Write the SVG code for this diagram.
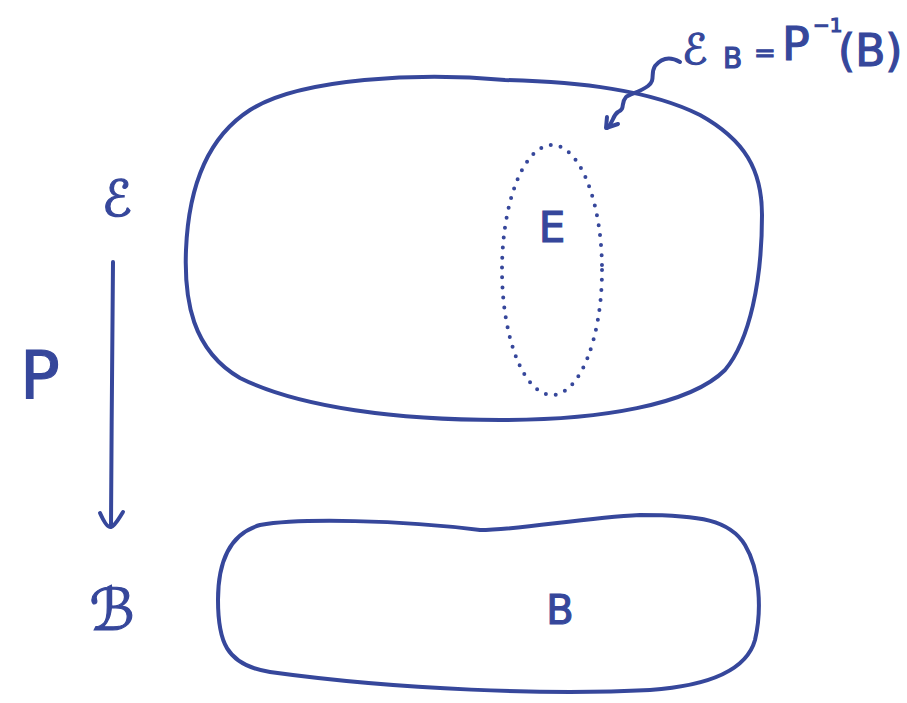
<svg xmlns="http://www.w3.org/2000/svg" width="907" height="703" viewBox="0 0 907 703">
<style>
.s{fill:none;stroke:#36479b;stroke-width:4;stroke-linecap:round;stroke-linejoin:round}
.d{fill:none;stroke:#36479b;stroke-width:4;stroke-linecap:round;stroke-dasharray:0 10}
.t{fill:#36479b;stroke:#36479b;stroke-width:1.2;font-family:"DejaVu Sans",sans-serif;text-anchor:middle}
.l{text-anchor:start}
</style>
<rect width="907" height="703" fill="#fff"/>
<g id="E-space">
<path class="s" d="M505,80 C420,72 300,78 250,110 C200,142 188,200 186,250 C184,300 192,350 240,378 C300,408 400,420 500,420 C600,420 690,405 725,370 C750,340 762,280 762,215 C762,170 745,140 700,115 C650,90 580,82 505,80 Z"/>
<text class="t" x="117" y="216" font-size="50">ℰ</text>
</g>
<g id="fiber">
<ellipse class="d" cx="552" cy="270" rx="50" ry="125"/>
<text class="t" x="552" y="242" font-size="42">E</text>
</g>
<g id="B-space">
<path class="s" d="M480,530 C400,520 300,518 260,525 C225,535 218,570 218,600 C218,640 225,665 270,672 C400,690 550,695 650,690 C720,685 748,665 755,640 C762,610 760,570 745,545 C730,520 700,515 640,515 C580,518 520,530 480,530 Z"/>
<text class="t" x="112" y="630" font-size="58">ℬ</text>
<text class="t" x="560" y="624" font-size="40">B</text>
</g>
<g id="label">
<text class="t l" x="682" y="64" font-size="42">ℰ</text>
<text class="t l" x="723" y="68" font-size="28">B</text>
<text class="t l" x="754" y="62" font-size="26">=</text>
<text class="t l" x="782" y="60" font-size="46">P</text>
<text class="t l" x="813" y="32" font-size="20">−1</text>
<text class="t l" x="838" y="66" font-size="44">(B)</text>
</g>
<g id="P-label">
<text class="t" x="40" y="398" font-size="66">P</text>
</g>
<g id="connectors">
<path class="s" d="M113,262 C113,340 111,440 111,526"/>
<path class="s" d="M100,513 C104,522 108,528 111,527 C115,526 119,518 123,512"/>
<path class="s" d="M680,62 C668,55 660,60 655,66 C650,74 656,80 648,86 C640,92 630,94 626,97 C620,104 626,108 618,112 C612,116 614,122 607,128"/>
<path class="s" d="M607,117 L606,128 L618,124"/>
</g>
</svg>
